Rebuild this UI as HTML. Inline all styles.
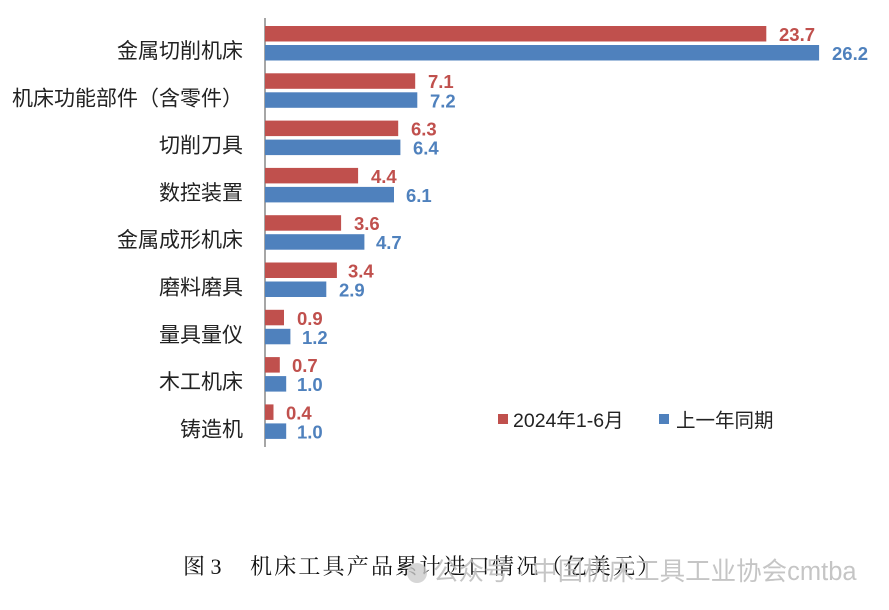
<!DOCTYPE html>
<html><head><meta charset="utf-8"><style>
body{margin:0;background:#fff;width:889px;height:605px;overflow:hidden}
</style></head><body>
<svg width="889" height="605" xmlns="http://www.w3.org/2000/svg">
<line x1="265" y1="18" x2="265" y2="447" stroke="#888" stroke-width="1.5"/>
<g fill="#C0504D">
<rect x="265" y="26" width="501.3" height="15.5"/>
<rect x="265" y="73.3" width="150.2" height="15.5"/>
<rect x="265" y="120.6" width="133.2" height="15.5"/>
<rect x="265" y="167.9" width="93.1" height="15.5"/>
<rect x="265" y="215.2" width="76.1" height="15.5"/>
<rect x="265" y="262.5" width="71.9" height="15.5"/>
<rect x="265" y="309.8" width="19" height="15.5"/>
<rect x="265" y="357.1" width="14.8" height="15.5"/>
<rect x="265" y="404.4" width="8.5" height="15.5"/>
</g>
<g fill="#4F81BD">
<rect x="265" y="45" width="554.1" height="15.5"/>
<rect x="265" y="92.3" width="152.3" height="15.5"/>
<rect x="265" y="139.6" width="135.4" height="15.5"/>
<rect x="265" y="186.9" width="129" height="15.5"/>
<rect x="265" y="234.2" width="99.4" height="15.5"/>
<rect x="265" y="281.5" width="61.3" height="15.5"/>
<rect x="265" y="328.8" width="25.4" height="15.5"/>
<rect x="265" y="376.1" width="21.2" height="15.5"/>
<rect x="265" y="423.4" width="21.2" height="15.5"/>
</g>
<g font-family="Liberation Sans, sans-serif" font-size="18.5" font-weight="bold" fill="#C0504D">
<text x="779" y="41">23.7</text>
<text x="428" y="88">7.1</text>
<text x="411" y="135.6">6.3</text>
<text x="371" y="183">4.4</text>
<text x="354" y="230">3.6</text>
<text x="348" y="277.5">3.4</text>
<text x="297" y="325">0.9</text>
<text x="292" y="372">0.7</text>
<text x="286" y="419.4">0.4</text>
</g>
<g font-family="Liberation Sans, sans-serif" font-size="18.5" font-weight="bold" fill="#4F81BD">
<text x="832" y="60">26.2</text>
<text x="430" y="107.3">7.2</text>
<text x="413" y="154.6">6.4</text>
<text x="406" y="202">6.1</text>
<text x="376" y="249">4.7</text>
<text x="339" y="296.5">2.9</text>
<text x="302" y="344">1.2</text>
<text x="297" y="391">1.0</text>
<text x="297" y="438.4">1.0</text>
</g>
<g font-family="Liberation Sans, Noto Sans CJK SC, sans-serif" font-size="21" fill="#222" text-anchor="end">
<text x="243" y="58">金属切削机床</text>
<text x="243" y="105.3">机床功能部件（含零件）</text>
<text x="243" y="152.6">切削刀具</text>
<text x="243" y="199.9">数控装置</text>
<text x="243" y="247.2">金属成形机床</text>
<text x="243" y="294.5">磨料磨具</text>
<text x="243" y="341.8">量具量仪</text>
<text x="243" y="389.1">木工机床</text>
<text x="243" y="436.4">铸造机</text>
</g>
<g font-family="Liberation Sans, Noto Sans CJK SC, sans-serif" font-size="19.5" fill="#222">
<rect x="498" y="414" width="10" height="10" fill="#C0504D"/><text x="513" y="427">2024年1-6月</text>
<rect x="659" y="414" width="10" height="10" fill="#4F81BD"/><text x="676" y="427">上一年同期</text>
</g>
<text x="183" y="574" font-size="22" fill="#111" font-family="Liberation Serif, Noto Serif CJK SC, serif">图 3</text>
<text x="250" y="574" font-size="22" letter-spacing="2.2" fill="#111" font-family="Liberation Serif, Noto Serif CJK SC, serif">机床工具产品累计进口情况（亿美元）</text>
<circle cx="417" cy="573" r="10" fill="#ccc" opacity="0.8"/>
<text x="433" y="580" font-size="25.5" fill="#bbb" opacity="0.85" font-family="Liberation Sans, Noto Sans CJK SC, sans-serif">公众号 · 中国机床工具工业协会cmtba</text>
</svg>
</body></html>
